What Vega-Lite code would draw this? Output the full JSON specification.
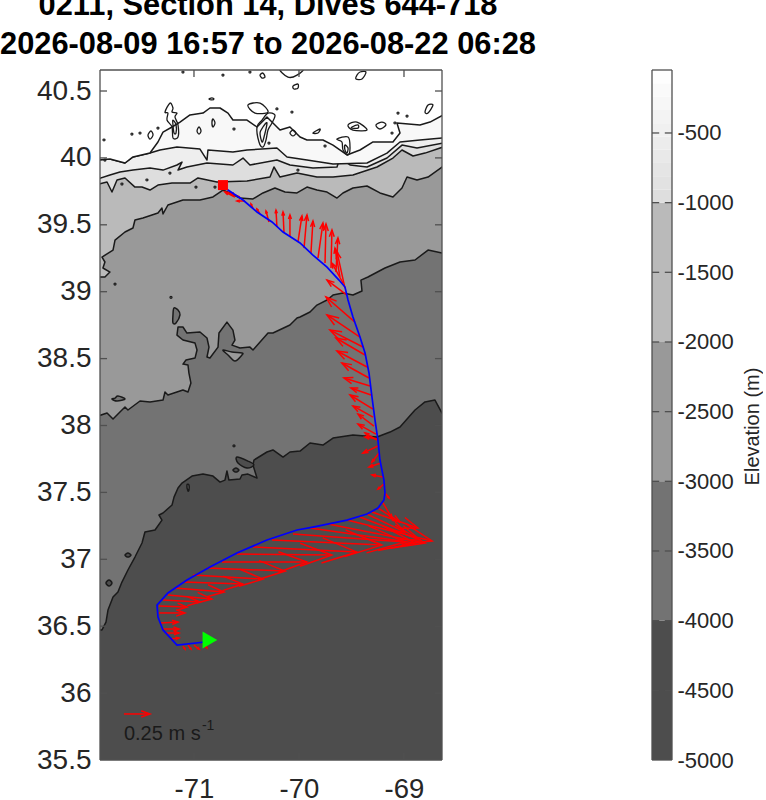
{
  "$schema": "https://vega.github.io/schema/vega-lite/v6.json",
  "background": "white",
  "padding": {"left": 0, "top": -11, "right": 0, "bottom": 5},
  "config": {"view": {"stroke": null}, "font": "Liberation Sans"},
  "datasets": {
    "polys": [
      {"poly":"base","band":"b5","lon":-72,"lat":35},{"poly":"base","band":"b5","lon":-68.5,"lat":35},{"poly":"base","band":"b5","lon":-68.5,"lat":41},{"poly":"base","band":"b5","lon":-72,"lat":41},
      {"poly":"a","band":"b4","lon":-71.943,"lat":36.472},{"poly":"a","band":"b4","lon":-71.876,"lat":36.472},{"poly":"a","band":"b4","lon":-71.838,"lat":36.531},{"poly":"a","band":"b4","lon":-71.819,"lat":36.621},{"poly":"a","band":"b4","lon":-71.771,"lat":36.718},{"poly":"a","band":"b4","lon":-71.724,"lat":36.755},{"poly":"a","band":"b4","lon":-71.686,"lat":36.83},{"poly":"a","band":"b4","lon":-71.629,"lat":36.92},{"poly":"a","band":"b4","lon":-71.562,"lat":37.017},{"poly":"a","band":"b4","lon":-71.495,"lat":37.122},{"poly":"a","band":"b4","lon":-71.467,"lat":37.204},{"poly":"a","band":"b4","lon":-71.371,"lat":37.219},{"poly":"a","band":"b4","lon":-71.305,"lat":37.293},{"poly":"a","band":"b4","lon":-71.333,"lat":37.331},{"poly":"a","band":"b4","lon":-71.295,"lat":37.346},{"poly":"a","band":"b4","lon":-71.209,"lat":37.406},{"poly":"a","band":"b4","lon":-71.19,"lat":37.465},{"poly":"a","band":"b4","lon":-71.152,"lat":37.533},{"poly":"a","band":"b4","lon":-71.114,"lat":37.57},{"poly":"a","band":"b4","lon":-71.019,"lat":37.622},{"poly":"a","band":"b4","lon":-70.914,"lat":37.637},{"poly":"a","band":"b4","lon":-70.819,"lat":37.622},{"poly":"a","band":"b4","lon":-70.752,"lat":37.577},{"poly":"a","band":"b4","lon":-70.705,"lat":37.592},{"poly":"a","band":"b4","lon":-70.686,"lat":37.66},{"poly":"a","band":"b4","lon":-70.667,"lat":37.592},{"poly":"a","band":"b4","lon":-70.562,"lat":37.6},{"poly":"a","band":"b4","lon":-70.543,"lat":37.63},{"poly":"a","band":"b4","lon":-70.486,"lat":37.637},{"poly":"a","band":"b4","lon":-70.4,"lat":37.607},{"poly":"a","band":"b4","lon":-70.438,"lat":37.705},{"poly":"a","band":"b4","lon":-70.429,"lat":37.742},{"poly":"a","band":"b4","lon":-70.305,"lat":37.802},{"poly":"a","band":"b4","lon":-70.248,"lat":37.817},{"poly":"a","band":"b4","lon":-70.152,"lat":37.764},{"poly":"a","band":"b4","lon":-70.086,"lat":37.802},{"poly":"a","band":"b4","lon":-69.99,"lat":37.809},{"poly":"a","band":"b4","lon":-69.895,"lat":37.869},{"poly":"a","band":"b4","lon":-69.772,"lat":37.854},{"poly":"a","band":"b4","lon":-69.676,"lat":37.906},{"poly":"a","band":"b4","lon":-69.486,"lat":37.929},{"poly":"a","band":"b4","lon":-69.257,"lat":37.914},{"poly":"a","band":"b4","lon":-69.133,"lat":37.951},{"poly":"a","band":"b4","lon":-69.038,"lat":37.989},{"poly":"a","band":"b4","lon":-68.895,"lat":38.116},{"poly":"a","band":"b4","lon":-68.8,"lat":38.176},{"poly":"a","band":"b4","lon":-68.705,"lat":38.19},{"poly":"a","band":"b4","lon":-68.638,"lat":38.093},{"poly":"a","band":"b4","lon":-68.591,"lat":38.093},{"poly":"a","band":"b4","lon":-68.5,"lat":41},{"poly":"a","band":"b4","lon":-72,"lat":41},
      {"poly":"b","band":"b3","lon":-71.943,"lat":38.063},{"poly":"b","band":"b3","lon":-71.828,"lat":38.093},{"poly":"b","band":"b3","lon":-71.771,"lat":38.048},{"poly":"b","band":"b3","lon":-71.705,"lat":38.101},{"poly":"b","band":"b3","lon":-71.657,"lat":38.138},{"poly":"b","band":"b3","lon":-71.629,"lat":38.116},{"poly":"b","band":"b3","lon":-71.514,"lat":38.183},{"poly":"b","band":"b3","lon":-71.419,"lat":38.175},{"poly":"b","band":"b3","lon":-71.295,"lat":38.19},{"poly":"b","band":"b3","lon":-71.276,"lat":38.25},{"poly":"b","band":"b3","lon":-71.248,"lat":38.228},{"poly":"b","band":"b3","lon":-71.105,"lat":38.265},{"poly":"b","band":"b3","lon":-71.057,"lat":38.25},{"poly":"b","band":"b3","lon":-71.029,"lat":38.317},{"poly":"b","band":"b3","lon":-71.048,"lat":38.392},{"poly":"b","band":"b3","lon":-71.057,"lat":38.452},{"poly":"b","band":"b3","lon":-71.105,"lat":38.459},{"poly":"b","band":"b3","lon":-71.076,"lat":38.489},{"poly":"b","band":"b3","lon":-70.99,"lat":38.504},{"poly":"b","band":"b3","lon":-70.971,"lat":38.564},{"poly":"b","band":"b3","lon":-70.99,"lat":38.616},{"poly":"b","band":"b3","lon":-71.105,"lat":38.639},{"poly":"b","band":"b3","lon":-71.162,"lat":38.676},{"poly":"b","band":"b3","lon":-71.152,"lat":38.736},{"poly":"b","band":"b3","lon":-71.105,"lat":38.736},{"poly":"b","band":"b3","lon":-71.067,"lat":38.691},{"poly":"b","band":"b3","lon":-70.943,"lat":38.699},{"poly":"b","band":"b3","lon":-70.876,"lat":38.654},{"poly":"b","band":"b3","lon":-70.857,"lat":38.586},{"poly":"b","band":"b3","lon":-70.876,"lat":38.512},{"poly":"b","band":"b3","lon":-70.848,"lat":38.504},{"poly":"b","band":"b3","lon":-70.771,"lat":38.586},{"poly":"b","band":"b3","lon":-70.762,"lat":38.691},{"poly":"b","band":"b3","lon":-70.686,"lat":38.773},{"poly":"b","band":"b3","lon":-70.629,"lat":38.713},{"poly":"b","band":"b3","lon":-70.61,"lat":38.639},{"poly":"b","band":"b3","lon":-70.638,"lat":38.601},{"poly":"b","band":"b3","lon":-70.562,"lat":38.579},{"poly":"b","band":"b3","lon":-70.467,"lat":38.586},{"poly":"b","band":"b3","lon":-70.438,"lat":38.564},{"poly":"b","band":"b3","lon":-70.295,"lat":38.691},{"poly":"b","band":"b3","lon":-70.248,"lat":38.691},{"poly":"b","band":"b3","lon":-70.086,"lat":38.751},{"poly":"b","band":"b3","lon":-70.019,"lat":38.803},{"poly":"b","band":"b3","lon":-69.99,"lat":38.811},{"poly":"b","band":"b3","lon":-69.895,"lat":38.848},{"poly":"b","band":"b3","lon":-69.829,"lat":38.9},{"poly":"b","band":"b3","lon":-69.733,"lat":38.938},{"poly":"b","band":"b3","lon":-69.676,"lat":38.975},{"poly":"b","band":"b3","lon":-69.581,"lat":38.99},{"poly":"b","band":"b3","lon":-69.486,"lat":38.975},{"poly":"b","band":"b3","lon":-69.4,"lat":39.005},{"poly":"b","band":"b3","lon":-69.41,"lat":39.087},{"poly":"b","band":"b3","lon":-69.343,"lat":39.11},{"poly":"b","band":"b3","lon":-69.181,"lat":39.177},{"poly":"b","band":"b3","lon":-69.038,"lat":39.222},{"poly":"b","band":"b3","lon":-68.895,"lat":39.237},{"poly":"b","band":"b3","lon":-68.771,"lat":39.311},{"poly":"b","band":"b3","lon":-68.638,"lat":39.289},{"poly":"b","band":"b3","lon":-68.591,"lat":39.289},{"poly":"b","band":"b3","lon":-68.5,"lat":41},{"poly":"b","band":"b3","lon":-72,"lat":41},
      {"poly":"c","band":"b2","lon":-71.943,"lat":39.11},{"poly":"c","band":"b2","lon":-71.848,"lat":39.11},{"poly":"c","band":"b2","lon":-71.8,"lat":39.147},{"poly":"c","band":"b2","lon":-71.867,"lat":39.177},{"poly":"c","band":"b2","lon":-71.848,"lat":39.222},{"poly":"c","band":"b2","lon":-71.876,"lat":39.259},{"poly":"c","band":"b2","lon":-71.771,"lat":39.311},{"poly":"c","band":"b2","lon":-71.752,"lat":39.386},{"poly":"c","band":"b2","lon":-71.657,"lat":39.446},{"poly":"c","band":"b2","lon":-71.581,"lat":39.476},{"poly":"c","band":"b2","lon":-71.562,"lat":39.536},{"poly":"c","band":"b2","lon":-71.486,"lat":39.551},{"poly":"c","band":"b2","lon":-71.343,"lat":39.588},{"poly":"c","band":"b2","lon":-71.305,"lat":39.625},{"poly":"c","band":"b2","lon":-71.295,"lat":39.581},{"poly":"c","band":"b2","lon":-71.248,"lat":39.648},{"poly":"c","band":"b2","lon":-71.105,"lat":39.685},{"poly":"c","band":"b2","lon":-70.943,"lat":39.685},{"poly":"c","band":"b2","lon":-70.819,"lat":39.708},{"poly":"c","band":"b2","lon":-70.724,"lat":39.76},{"poly":"c","band":"b2","lon":-70.657,"lat":39.738},{"poly":"c","band":"b2","lon":-70.562,"lat":39.7},{"poly":"c","band":"b2","lon":-70.438,"lat":39.693},{"poly":"c","band":"b2","lon":-70.343,"lat":39.738},{"poly":"c","band":"b2","lon":-70.229,"lat":39.775},{"poly":"c","band":"b2","lon":-70.133,"lat":39.745},{"poly":"c","band":"b2","lon":-70.019,"lat":39.738},{"poly":"c","band":"b2","lon":-69.924,"lat":39.782},{"poly":"c","band":"b2","lon":-69.829,"lat":39.76},{"poly":"c","band":"b2","lon":-69.733,"lat":39.745},{"poly":"c","band":"b2","lon":-69.638,"lat":39.7},{"poly":"c","band":"b2","lon":-69.581,"lat":39.738},{"poly":"c","band":"b2","lon":-69.486,"lat":39.775},{"poly":"c","band":"b2","lon":-69.352,"lat":39.79},{"poly":"c","band":"b2","lon":-69.229,"lat":39.738},{"poly":"c","band":"b2","lon":-69.105,"lat":39.708},{"poly":"c","band":"b2","lon":-69.019,"lat":39.775},{"poly":"c","band":"b2","lon":-68.971,"lat":39.857},{"poly":"c","band":"b2","lon":-68.876,"lat":39.835},{"poly":"c","band":"b2","lon":-68.771,"lat":39.857},{"poly":"c","band":"b2","lon":-68.638,"lat":39.932},{"poly":"c","band":"b2","lon":-68.591,"lat":39.947},{"poly":"c","band":"b2","lon":-68.5,"lat":41},{"poly":"c","band":"b2","lon":-72,"lat":41},
      {"poly":"d","band":"b1a","lon":-71.943,"lat":39.797},{"poly":"d","band":"b1a","lon":-71.828,"lat":39.82},{"poly":"d","band":"b1a","lon":-71.781,"lat":39.745},{"poly":"d","band":"b1a","lon":-71.733,"lat":39.835},{"poly":"d","band":"b1a","lon":-71.657,"lat":39.85},{"poly":"d","band":"b1a","lon":-71.562,"lat":39.782},{"poly":"d","band":"b1a","lon":-71.495,"lat":39.782},{"poly":"d","band":"b1a","lon":-71.419,"lat":39.76},{"poly":"d","band":"b1a","lon":-71.343,"lat":39.797},{"poly":"d","band":"b1a","lon":-71.209,"lat":39.812},{"poly":"d","band":"b1a","lon":-71.038,"lat":39.812},{"poly":"d","band":"b1a","lon":-70.962,"lat":39.85},{"poly":"d","band":"b1a","lon":-70.781,"lat":39.82},{"poly":"d","band":"b1a","lon":-70.495,"lat":39.827},{"poly":"d","band":"b1a","lon":-70.276,"lat":39.857},{"poly":"d","band":"b1a","lon":-70.238,"lat":39.932},{"poly":"d","band":"b1a","lon":-70.181,"lat":39.857},{"poly":"d","band":"b1a","lon":-70.019,"lat":39.887},{"poly":"d","band":"b1a","lon":-69.829,"lat":39.857},{"poly":"d","band":"b1a","lon":-69.676,"lat":39.857},{"poly":"d","band":"b1a","lon":-69.486,"lat":39.872},{"poly":"d","band":"b1a","lon":-69.257,"lat":39.932},{"poly":"d","band":"b1a","lon":-69.105,"lat":39.999},{"poly":"d","band":"b1a","lon":-69.019,"lat":40.059},{"poly":"d","band":"b1a","lon":-68.914,"lat":40.014},{"poly":"d","band":"b1a","lon":-68.8,"lat":40.036},{"poly":"d","band":"b1a","lon":-68.629,"lat":40.081},{"poly":"d","band":"b1a","lon":-68.591,"lat":40.081},{"poly":"d","band":"b1a","lon":-68.5,"lat":41},{"poly":"d","band":"b1a","lon":-72,"lat":41},
      {"poly":"e","band":"b1b","lon":-71.943,"lat":39.835},{"poly":"e","band":"b1b","lon":-71.8,"lat":39.872},{"poly":"e","band":"b1b","lon":-71.705,"lat":39.894},{"poly":"e","band":"b1b","lon":-71.581,"lat":39.909},{"poly":"e","band":"b1b","lon":-71.419,"lat":39.924},{"poly":"e","band":"b1b","lon":-71.295,"lat":39.909},{"poly":"e","band":"b1b","lon":-71.162,"lat":39.947},{"poly":"e","band":"b1b","lon":-71.114,"lat":39.969},{"poly":"e","band":"b1b","lon":-71.152,"lat":39.909},{"poly":"e","band":"b1b","lon":-71.067,"lat":39.932},{"poly":"e","band":"b1b","lon":-70.876,"lat":39.962},{"poly":"e","band":"b1b","lon":-70.629,"lat":39.947},{"poly":"e","band":"b1b","lon":-70.533,"lat":39.999},{"poly":"e","band":"b1b","lon":-70.467,"lat":39.947},{"poly":"e","band":"b1b","lon":-70.21,"lat":39.984},{"poly":"e","band":"b1b","lon":-70.086,"lat":39.947},{"poly":"e","band":"b1b","lon":-69.867,"lat":39.924},{"poly":"e","band":"b1b","lon":-69.638,"lat":39.932},{"poly":"e","band":"b1b","lon":-69.61,"lat":39.999},{"poly":"e","band":"b1b","lon":-69.514,"lat":39.947},{"poly":"e","band":"b1b","lon":-69.352,"lat":39.932},{"poly":"e","band":"b1b","lon":-69.162,"lat":39.999},{"poly":"e","band":"b1b","lon":-69.019,"lat":40.096},{"poly":"e","band":"b1b","lon":-68.876,"lat":40.074},{"poly":"e","band":"b1b","lon":-68.629,"lat":40.111},{"poly":"e","band":"b1b","lon":-68.591,"lat":40.111},{"poly":"e","band":"b1b","lon":-68.5,"lat":41},{"poly":"e","band":"b1b","lon":-72,"lat":41},
      {"poly":"f","band":"b1c","lon":-71.943,"lat":39.984},{"poly":"f","band":"b1c","lon":-71.8,"lat":39.992},{"poly":"f","band":"b1c","lon":-71.657,"lat":39.962},{"poly":"f","band":"b1c","lon":-71.581,"lat":40.007},{"poly":"f","band":"b1c","lon":-71.419,"lat":40.037},{"poly":"f","band":"b1c","lon":-71.324,"lat":40.059},{"poly":"f","band":"b1c","lon":-71.162,"lat":40.081},{"poly":"f","band":"b1c","lon":-70.943,"lat":40.066},{"poly":"f","band":"b1c","lon":-70.876,"lat":39.984},{"poly":"f","band":"b1c","lon":-70.867,"lat":40.059},{"poly":"f","band":"b1c","lon":-70.629,"lat":40.044},{"poly":"f","band":"b1c","lon":-70.495,"lat":40.059},{"poly":"f","band":"b1c","lon":-70.21,"lat":40.074},{"poly":"f","band":"b1c","lon":-70.114,"lat":40.007},{"poly":"f","band":"b1c","lon":-69.924,"lat":39.984},{"poly":"f","band":"b1c","lon":-69.676,"lat":39.954},{"poly":"f","band":"b1c","lon":-69.352,"lat":39.962},{"poly":"f","band":"b1c","lon":-69.162,"lat":40.036},{"poly":"f","band":"b1c","lon":-69.038,"lat":40.119},{"poly":"f","band":"b1c","lon":-68.848,"lat":40.134},{"poly":"f","band":"b1c","lon":-68.629,"lat":40.149},{"poly":"f","band":"b1c","lon":-68.591,"lat":40.149},{"poly":"f","band":"b1c","lon":-68.5,"lat":41},{"poly":"f","band":"b1c","lon":-72,"lat":41},
      {"poly":"g","band":"b1d","lon":-71.943,"lat":39.984},{"poly":"g","band":"b1d","lon":-71.8,"lat":39.992},{"poly":"g","band":"b1d","lon":-71.657,"lat":39.962},{"poly":"g","band":"b1d","lon":-71.581,"lat":40.007},{"poly":"g","band":"b1d","lon":-71.419,"lat":40.037},{"poly":"g","band":"b1d","lon":-71.343,"lat":40.119},{"poly":"g","band":"b1d","lon":-71.295,"lat":40.193},{"poly":"g","band":"b1d","lon":-71.209,"lat":40.231},{"poly":"g","band":"b1d","lon":-71.133,"lat":40.268},{"poly":"g","band":"b1d","lon":-71.038,"lat":40.321},{"poly":"g","band":"b1d","lon":-70.914,"lat":40.335},{"poly":"g","band":"b1d","lon":-70.848,"lat":40.373},{"poly":"g","band":"b1d","lon":-70.752,"lat":40.373},{"poly":"g","band":"b1d","lon":-70.676,"lat":40.335},{"poly":"g","band":"b1d","lon":-70.629,"lat":40.283},{"poly":"g","band":"b1d","lon":-70.495,"lat":40.283},{"poly":"g","band":"b1d","lon":-70.4,"lat":40.231},{"poly":"g","band":"b1d","lon":-70.305,"lat":40.306},{"poly":"g","band":"b1d","lon":-70.181,"lat":40.208},{"poly":"g","band":"b1d","lon":-70.086,"lat":40.231},{"poly":"g","band":"b1d","lon":-69.99,"lat":40.156},{"poly":"g","band":"b1d","lon":-69.924,"lat":40.134},{"poly":"g","band":"b1d","lon":-69.772,"lat":40.134},{"poly":"g","band":"b1d","lon":-69.676,"lat":40.096},{"poly":"g","band":"b1d","lon":-69.543,"lat":40.022},{"poly":"g","band":"b1d","lon":-69.419,"lat":40.059},{"poly":"g","band":"b1d","lon":-69.295,"lat":40.119},{"poly":"g","band":"b1d","lon":-69.105,"lat":40.119},{"poly":"g","band":"b1d","lon":-69.038,"lat":40.186},{"poly":"g","band":"b1d","lon":-69.067,"lat":40.261},{"poly":"g","band":"b1d","lon":-68.848,"lat":40.246},{"poly":"g","band":"b1d","lon":-68.752,"lat":40.268},{"poly":"g","band":"b1d","lon":-68.629,"lat":40.32},{"poly":"g","band":"b1d","lon":-68.591,"lat":40.32},{"poly":"g","band":"b1d","lon":-68.5,"lat":41},{"poly":"g","band":"b1d","lon":-72,"lat":41},
      {"poly":"i1","band":"b5","lon":-71.657,"lat":37.032},{"poly":"i1","band":"b5","lon":-71.629,"lat":37.047},{"poly":"i1","band":"b5","lon":-71.6,"lat":37.032},{"poly":"i1","band":"b5","lon":-71.629,"lat":37.017},
      {"poly":"i2","band":"b5","lon":-71.838,"lat":36.823},{"poly":"i2","band":"b5","lon":-71.809,"lat":36.845},{"poly":"i2","band":"b5","lon":-71.781,"lat":36.823},{"poly":"i2","band":"b5","lon":-71.809,"lat":36.8},
      {"poly":"i3","band":"b5","lon":-70.629,"lat":37.667},{"poly":"i3","band":"b5","lon":-70.6,"lat":37.682},{"poly":"i3","band":"b5","lon":-70.572,"lat":37.667},{"poly":"i3","band":"b5","lon":-70.6,"lat":37.652},
      {"poly":"i4","band":"b5","lon":-70.591,"lat":37.764},{"poly":"i4","band":"b5","lon":-70.486,"lat":37.734},{"poly":"i4","band":"b5","lon":-70.429,"lat":37.705},{"poly":"i4","band":"b5","lon":-70.495,"lat":37.682},{"poly":"i4","band":"b5","lon":-70.581,"lat":37.72},
      {"poly":"i5","band":"b4","lon":-71.067,"lat":37.555},{"poly":"i5","band":"b4","lon":-71.048,"lat":37.555},{"poly":"i5","band":"b4","lon":-71.048,"lat":37.518},{"poly":"i5","band":"b4","lon":-71.057,"lat":37.511},
      {"poly":"i6","band":"b4","lon":-71.191,"lat":38.878},{"poly":"i6","band":"b4","lon":-71.152,"lat":38.863},{"poly":"i6","band":"b4","lon":-71.133,"lat":38.826},{"poly":"i6","band":"b4","lon":-71.171,"lat":38.766},{"poly":"i6","band":"b4","lon":-71.2,"lat":38.766},{"poly":"i6","band":"b4","lon":-71.2,"lat":38.826},
      {"poly":"i7","band":"b3","lon":-70.724,"lat":38.564},{"poly":"i7","band":"b3","lon":-70.638,"lat":38.549},{"poly":"i7","band":"b3","lon":-70.543,"lat":38.542},{"poly":"i7","band":"b3","lon":-70.543,"lat":38.527},{"poly":"i7","band":"b3","lon":-70.61,"lat":38.482},{"poly":"i7","band":"b3","lon":-70.676,"lat":38.527},
      {"poly":"i8","band":"b4","lon":-71.752,"lat":38.205},{"poly":"i8","band":"b4","lon":-71.724,"lat":38.22},{"poly":"i8","band":"b4","lon":-71.657,"lat":38.198},{"poly":"i8","band":"b4","lon":-71.733,"lat":38.183},{"poly":"i8","band":"b4","lon":-71.781,"lat":38.198}
    ],
    "loops": [
      {"loop":"s1","lon":-71.229,"lat":40.41},{"loop":"s1","lon":-71.2,"lat":40.373},{"loop":"s1","lon":-71.209,"lat":40.343},{"loop":"s1","lon":-71.162,"lat":40.335},{"loop":"s1","lon":-71.181,"lat":40.306},{"loop":"s1","lon":-71.152,"lat":40.246},{"loop":"s1","lon":-71.152,"lat":40.156},{"loop":"s1","lon":-71.2,"lat":40.149},{"loop":"s1","lon":-71.209,"lat":40.231},{"loop":"s1","lon":-71.257,"lat":40.283},{"loop":"s1","lon":-71.248,"lat":40.335},{"loop":"s1","lon":-71.276,"lat":40.343},
      {"loop":"s1i","lon":-71.2,"lat":40.283},{"loop":"s1i","lon":-71.171,"lat":40.246},{"loop":"s1i","lon":-71.171,"lat":40.186},{"loop":"s1i","lon":-71.19,"lat":40.186},{"loop":"s1i","lon":-71.2,"lat":40.246},
      {"loop":"s2","lon":-70.295,"lat":40.335},{"loop":"s2","lon":-70.229,"lat":40.32},{"loop":"s2","lon":-70.257,"lat":40.261},{"loop":"s2","lon":-70.295,"lat":40.208},{"loop":"s2","lon":-70.314,"lat":40.134},{"loop":"s2","lon":-70.343,"lat":40.081},{"loop":"s2","lon":-70.381,"lat":40.119},{"loop":"s2","lon":-70.4,"lat":40.231},{"loop":"s2","lon":-70.352,"lat":40.283},
      {"loop":"s2i","lon":-70.343,"lat":40.231},{"loop":"s2i","lon":-70.305,"lat":40.261},{"loop":"s2i","lon":-70.333,"lat":40.156},{"loop":"s2i","lon":-70.352,"lat":40.119},{"loop":"s2i","lon":-70.371,"lat":40.186},
      {"loop":"s3","lon":-69.638,"lat":40.141},{"loop":"s3","lon":-69.533,"lat":40.156},{"loop":"s3","lon":-69.514,"lat":40.074},{"loop":"s3","lon":-69.533,"lat":40.022},{"loop":"s3","lon":-69.581,"lat":40.059},{"loop":"s3","lon":-69.591,"lat":40.119},
      {"loop":"s3i","lon":-69.562,"lat":40.096},{"loop":"s3i","lon":-69.533,"lat":40.074},{"loop":"s3i","lon":-69.543,"lat":40.036},{"loop":"s3i","lon":-69.562,"lat":40.059},
      {"loop":"s4","lon":-69.533,"lat":40.246},{"loop":"s4","lon":-69.448,"lat":40.268},{"loop":"s4","lon":-69.352,"lat":40.208},{"loop":"s4","lon":-69.486,"lat":40.208},
      {"loop":"s4i","lon":-69.495,"lat":40.231},{"loop":"s4i","lon":-69.438,"lat":40.246},{"loop":"s4i","lon":-69.438,"lat":40.223},{"loop":"s4i","lon":-69.495,"lat":40.223},
      {"loop":"s5","lon":-70.486,"lat":40.395},{"loop":"s5","lon":-70.371,"lat":40.41},{"loop":"s5","lon":-70.295,"lat":40.343},{"loop":"s5","lon":-70.419,"lat":40.335},
      {"loop":"s6","lon":-68.771,"lat":40.395},{"loop":"s6","lon":-68.724,"lat":40.395},{"loop":"s6","lon":-68.771,"lat":40.335},{"loop":"s6","lon":-68.8,"lat":40.343},
      {"loop":"s7","lon":-69.448,"lat":40.619},{"loop":"s7","lon":-69.419,"lat":40.642},{"loop":"s7","lon":-69.362,"lat":40.642},{"loop":"s7","lon":-69.4,"lat":40.59},{"loop":"s7","lon":-69.457,"lat":40.59},
      {"loop":"s8","lon":-70.371,"lat":40.619},{"loop":"s8","lon":-70.343,"lat":40.634},{"loop":"s8","lon":-70.324,"lat":40.604},{"loop":"s8","lon":-70.352,"lat":40.597},
      {"loop":"s9","lon":-70.057,"lat":40.537},{"loop":"s9","lon":-70.01,"lat":40.552},{"loop":"s9","lon":-70.01,"lat":40.522},{"loop":"s9","lon":-70.048,"lat":40.515},
      {"loop":"s10","lon":-70.181,"lat":40.672},{"loop":"s10","lon":-70.105,"lat":40.604},{"loop":"s10","lon":-70.019,"lat":40.619},{"loop":"s10","lon":-69.962,"lat":40.672},
      {"loop":"s11","lon":-69.267,"lat":40.246},{"loop":"s11","lon":-69.21,"lat":40.268},{"loop":"s11","lon":-69.172,"lat":40.246},{"loop":"s11","lon":-69.229,"lat":40.216},
      {"loop":"s12","lon":-70.857,"lat":40.44},{"loop":"s12","lon":-70.829,"lat":40.448},{"loop":"s12","lon":-70.81,"lat":40.44},{"loop":"s12","lon":-70.829,"lat":40.433},
      {"loop":"s13","lon":-69.867,"lat":40.186},{"loop":"s13","lon":-69.8,"lat":40.216},{"loop":"s13","lon":-69.819,"lat":40.186},
      {"loop":"s14","lon":-70.086,"lat":40.186},{"loop":"s14","lon":-70.057,"lat":40.208},{"loop":"s14","lon":-70.029,"lat":40.186},{"loop":"s14","lon":-70.057,"lat":40.164},
      {"loop":"s15","lon":-71.438,"lat":40.171},{"loop":"s15","lon":-71.41,"lat":40.201},{"loop":"s15","lon":-71.39,"lat":40.171},{"loop":"s15","lon":-71.419,"lat":40.141},
      {"loop":"s16","lon":-70.971,"lat":40.201},{"loop":"s16","lon":-70.952,"lat":40.231},{"loop":"s16","lon":-70.933,"lat":40.201},{"loop":"s16","lon":-70.952,"lat":40.178},
      {"loop":"s17","lon":-70.829,"lat":40.261},{"loop":"s17","lon":-70.819,"lat":40.291},{"loop":"s17","lon":-70.8,"lat":40.261},{"loop":"s17","lon":-70.819,"lat":40.231}
    ],
    "dots": [
      {"lon":-71.752,"lat":39.057},{"lon":-71.219,"lat":38.957},{"lon":-70.619,"lat":37.847},{"lon":-70.724,"lat":40.619},{"lon":-70.467,"lat":40.642},{"lon":-71.105,"lat":40.642},{"lon":-70.21,"lat":40.366},{"lon":-70.067,"lat":40.343},{"lon":-71.514,"lat":40.186},{"lon":-71.591,"lat":40.178},{"lon":-71.343,"lat":40.223},{"lon":-70.619,"lat":40.216},{"lon":-71.857,"lat":40.134},{"lon":-69.057,"lat":40.335},{"lon":-68.971,"lat":40.313},{"lon":-69.086,"lat":40.261},{"lon":-69.114,"lat":40.186},{"lon":-69.752,"lat":40.089},{"lon":-70.286,"lat":40.111},{"lon":-70.01,"lat":39.909},{"lon":-70.981,"lat":39.782},{"lon":-70.8,"lat":39.782},{"lon":-71.686,"lat":39.805},{"lon":-71.448,"lat":39.835},{"lon":-71.229,"lat":39.887},{"lon":-71.848,"lat":39.984}
    ],
    "track": [
      {"lon":-70.724,"lat":39.797},{"lon":-70.676,"lat":39.76},{"lon":-70.533,"lat":39.685},{"lon":-70.4,"lat":39.596},{"lon":-70.257,"lat":39.521},{"lon":-70.152,"lat":39.446},{"lon":-69.99,"lat":39.364},{"lon":-69.867,"lat":39.274},{"lon":-69.733,"lat":39.184},{"lon":-69.619,"lat":39.087},{"lon":-69.562,"lat":39.035},{"lon":-69.533,"lat":38.938},{"lon":-69.486,"lat":38.811},{"lon":-69.419,"lat":38.661},{"lon":-69.371,"lat":38.542},{"lon":-69.333,"lat":38.392},{"lon":-69.305,"lat":38.213},{"lon":-69.276,"lat":38.041},{"lon":-69.248,"lat":37.891},{"lon":-69.229,"lat":37.742},{"lon":-69.191,"lat":37.592},{"lon":-69.181,"lat":37.495},{"lon":-69.191,"lat":37.443},{"lon":-69.248,"lat":37.383},{"lon":-69.352,"lat":37.338},{"lon":-69.543,"lat":37.293},{"lon":-69.867,"lat":37.241},{"lon":-70.019,"lat":37.219},{"lon":-70.305,"lat":37.144},{"lon":-70.591,"lat":37.047},{"lon":-70.848,"lat":36.942},{"lon":-71.067,"lat":36.845},{"lon":-71.248,"lat":36.748},{"lon":-71.352,"lat":36.658},{"lon":-71.343,"lat":36.568},{"lon":-71.295,"lat":36.472},{"lon":-71.162,"lat":36.359},{"lon":-70.895,"lat":36.382}
    ],
    "arrows": [
      {"lon":-70.61,"lat":39.708,"lon2":-70.705,"lat2":39.745},{"lon":-70.562,"lat":39.708,"lon2":-70.657,"lat2":39.738},{"lon":-70.514,"lat":39.678,"lon2":-70.591,"lat2":39.678},{"lon":-70.438,"lat":39.625,"lon2":-70.457,"lat2":39.655},{"lon":-70.371,"lat":39.581,"lon2":-70.4,"lat2":39.618},{"lon":-70.286,"lat":39.521,"lon2":-70.314,"lat2":39.603},{"lon":-70.21,"lat":39.483,"lon2":-70.219,"lat2":39.61},{"lon":-70.143,"lat":39.446,"lon2":-70.152,"lat2":39.596},{"lon":-70.086,"lat":39.409,"lon2":-70.086,"lat2":39.573},{"lon":-70.01,"lat":39.371,"lon2":-69.972,"lat2":39.566},{"lon":-69.952,"lat":39.326,"lon2":-69.924,"lat2":39.573},{"lon":-69.886,"lat":39.289,"lon2":-69.867,"lat2":39.528},{"lon":-69.819,"lat":39.252,"lon2":-69.772,"lat2":39.513},{"lon":-69.752,"lat":39.214,"lon2":-69.743,"lat2":39.506},{"lon":-69.695,"lat":39.177,"lon2":-69.686,"lat2":39.461},{"lon":-69.648,"lat":39.147,"lon2":-69.629,"lat2":39.401},{"lon":-69.61,"lat":39.11,"lon2":-69.657,"lat2":39.326},{"lon":-69.581,"lat":39.065,"lon2":-69.686,"lat2":39.214},{"lon":-69.562,"lat":39.027,"lon2":-69.638,"lat2":39.297},{"lon":-69.543,"lat":38.975,"lon2":-69.733,"lat2":39.087},
      {"lon":-69.467,"lat":38.773,"lon2":-69.743,"lat2":38.96},{"lon":-69.419,"lat":38.661,"lon2":-69.733,"lat2":38.826},{"lon":-69.391,"lat":38.587,"lon2":-69.705,"lat2":38.713},{"lon":-69.371,"lat":38.527,"lon2":-69.648,"lat2":38.654},{"lon":-69.352,"lat":38.437,"lon2":-69.638,"lat2":38.557},{"lon":-69.333,"lat":38.355,"lon2":-69.591,"lat2":38.467},{"lon":-69.324,"lat":38.295,"lon2":-69.572,"lat2":38.355},{"lon":-69.314,"lat":38.228,"lon2":-69.505,"lat2":38.28},{"lon":-69.295,"lat":38.123,"lon2":-69.514,"lat2":38.228},{"lon":-69.295,"lat":38.063,"lon2":-69.486,"lat2":38.146},{"lon":-69.286,"lat":37.996,"lon2":-69.438,"lat2":38.086},{"lon":-69.267,"lat":37.936,"lon2":-69.438,"lat2":38.011},{"lon":-69.257,"lat":37.891,"lon2":-69.371,"lat2":37.944},{"lon":-69.248,"lat":37.899,"lon2":-69.371,"lat2":37.914},{"lon":-69.248,"lat":37.847,"lon2":-69.391,"lat2":37.794},{"lon":-69.238,"lat":37.794,"lon2":-69.305,"lat2":37.727},{"lon":-69.219,"lat":37.72,"lon2":-69.333,"lat2":37.69},{"lon":-69.2,"lat":37.615,"lon2":-69.305,"lat2":37.63},{"lon":-69.191,"lat":37.563,"lon2":-69.248,"lat2":37.525},
      {"lon":-69.181,"lat":37.495,"lon2":-69.143,"lat2":37.458},{"lon":-69.2,"lat":37.421,"lon2":-69.114,"lat2":37.308},{"lon":-69.248,"lat":37.383,"lon2":-69.038,"lat2":37.279},{"lon":-69.305,"lat":37.353,"lon2":-68.867,"lat2":37.234},{"lon":-69.352,"lat":37.338,"lon2":-68.99,"lat2":37.204},{"lon":-69.419,"lat":37.316,"lon2":-68.848,"lat2":37.144},{"lon":-69.543,"lat":37.293,"lon2":-68.733,"lat2":37.137},{"lon":-69.724,"lat":37.264,"lon2":-68.8,"lat2":37.122},{"lon":-69.895,"lat":37.234,"lon2":-68.895,"lat2":37.122},{"lon":-70.057,"lat":37.189,"lon2":-68.99,"lat2":37.129},{"lon":-70.257,"lat":37.144,"lon2":-69.21,"lat2":37.107},{"lon":-70.438,"lat":37.092,"lon2":-69.448,"lat2":37.054},{"lon":-70.591,"lat":37.039,"lon2":-69.686,"lat2":37.032},{"lon":-70.733,"lat":36.98,"lon2":-69.924,"lat2":36.98},{"lon":-70.876,"lat":36.935,"lon2":-70.133,"lat2":36.912},{"lon":-71.01,"lat":36.882,"lon2":-70.343,"lat2":36.852},{"lon":-71.105,"lat":36.83,"lon2":-70.533,"lat2":36.815},{"lon":-71.181,"lat":36.785,"lon2":-70.714,"lat2":36.755},{"lon":-71.248,"lat":36.733,"lon2":-70.829,"lat2":36.703},{"lon":-71.295,"lat":36.696,"lon2":-70.943,"lat2":36.681},{"lon":-71.333,"lat":36.651,"lon2":-71.067,"lat2":36.643},{"lon":-71.333,"lat":36.599,"lon2":-71.086,"lat2":36.599},{"lon":-71.314,"lat":36.524,"lon2":-71.152,"lat2":36.531},{"lon":-71.295,"lat":36.479,"lon2":-71.143,"lat2":36.479},{"lon":-71.276,"lat":36.449,"lon2":-71.143,"lat2":36.449},{"lon":-71.229,"lat":36.404,"lon2":-71.143,"lat2":36.412},{"lon":-71.105,"lat":36.352,"lon2":-71.086,"lat2":36.329},{"lon":-71.057,"lat":36.359,"lon2":-71.029,"lat2":36.329},{"lon":-71,"lat":36.359,"lon2":-70.952,"lat2":36.329},{"lon":-70.914,"lat":36.374,"lon2":-70.876,"lat2":36.337},
      {"lon":-71.667,"lat":35.844,"lon2":-71.419,"lat2":35.844}
    ],
    "frame": [
      {"lon":-71.895,"lat":35.5,"lon2":-68.638,"lat2":35.5},{"lon":-71.895,"lat":40.657,"lon2":-68.638,"lat2":40.657},{"lon":-71.895,"lat":35.5,"lon2":-71.895,"lat2":40.657},{"lon":-68.638,"lat":35.5,"lon2":-68.638,"lat2":40.657},
      {"lon":-71,"lat":35.5,"lon2":-71,"lat2":35.552},{"lon":-70,"lat":35.5,"lon2":-70,"lat2":35.552},{"lon":-69,"lat":35.5,"lon2":-69,"lat2":35.552},
      {"lon":-71,"lat":40.657,"lon2":-71,"lat2":40.605},{"lon":-70,"lat":40.657,"lon2":-70,"lat2":40.605},{"lon":-69,"lat":40.657,"lon2":-69,"lat2":40.605},
      {"lon":-71.895,"lat":36,"lon2":-71.828,"lat2":36},{"lon":-71.895,"lat":36.5,"lon2":-71.828,"lat2":36.5},{"lon":-71.895,"lat":37,"lon2":-71.828,"lat2":37},{"lon":-71.895,"lat":37.5,"lon2":-71.828,"lat2":37.5},{"lon":-71.895,"lat":38,"lon2":-71.828,"lat2":38},{"lon":-71.895,"lat":38.5,"lon2":-71.828,"lat2":38.5},{"lon":-71.895,"lat":39,"lon2":-71.828,"lat2":39},{"lon":-71.895,"lat":39.5,"lon2":-71.828,"lat2":39.5},{"lon":-71.895,"lat":40,"lon2":-71.828,"lat2":40},{"lon":-71.895,"lat":40.5,"lon2":-71.828,"lat2":40.5},
      {"lon":-68.638,"lat":36,"lon2":-68.705,"lat2":36},{"lon":-68.638,"lat":36.5,"lon2":-68.705,"lat2":36.5},{"lon":-68.638,"lat":37,"lon2":-68.705,"lat2":37},{"lon":-68.638,"lat":37.5,"lon2":-68.705,"lat2":37.5},{"lon":-68.638,"lat":38,"lon2":-68.705,"lat2":38},{"lon":-68.638,"lat":38.5,"lon2":-68.705,"lat2":38.5},{"lon":-68.638,"lat":39,"lon2":-68.705,"lat2":39},{"lon":-68.638,"lat":39.5,"lon2":-68.705,"lat2":39.5},{"lon":-68.638,"lat":40,"lon2":-68.705,"lat2":40},{"lon":-68.638,"lat":40.5,"lon2":-68.705,"lat2":40.5}
    ],
    "bar": [
      {"low":-5000,"high":-4000,"shade":"s5"},{"low":-4000,"high":-3000,"shade":"s4"},{"low":-3000,"high":-2000,"shade":"s3"},{"low":-2000,"high":-1000,"shade":"s2"},
      {"low":-1000,"high":-905,"shade":"g0"},{"low":-905,"high":-810,"shade":"g1"},{"low":-810,"high":-715,"shade":"g2"},{"low":-715,"high":-620,"shade":"g3"},{"low":-620,"high":-525,"shade":"g4"},{"low":-525,"high":-430,"shade":"g5"},{"low":-430,"high":-335,"shade":"g6"},{"low":-335,"high":-240,"shade":"g7"},{"low":-240,"high":-145,"shade":"g8"},{"low":-145,"high":-48,"shade":"g9"}
    ],
    "barframe": [
      {"a":0,"b":1,"e":-5000,"e2":-5000},{"a":0,"b":1,"e":-48,"e2":-48},{"a":0,"b":0,"e":-5000,"e2":-48},{"a":1,"b":1,"e":-5000,"e2":-48},
      {"a":0,"b":0.36,"e":-4500,"e2":-4500},{"a":0.64,"b":1,"e":-4500,"e2":-4500},{"a":0,"b":0.36,"e":-4000,"e2":-4000},{"a":0.64,"b":1,"e":-4000,"e2":-4000},{"a":0,"b":0.36,"e":-3500,"e2":-3500},{"a":0.64,"b":1,"e":-3500,"e2":-3500},{"a":0,"b":0.36,"e":-3000,"e2":-3000},{"a":0.64,"b":1,"e":-3000,"e2":-3000},{"a":0,"b":0.36,"e":-2500,"e2":-2500},{"a":0.64,"b":1,"e":-2500,"e2":-2500},{"a":0,"b":0.36,"e":-2000,"e2":-2000},{"a":0.64,"b":1,"e":-2000,"e2":-2000},{"a":0,"b":0.36,"e":-1500,"e2":-1500},{"a":0.64,"b":1,"e":-1500,"e2":-1500},{"a":0,"b":0.36,"e":-1000,"e2":-1000},{"a":0.64,"b":1,"e":-1000,"e2":-1000},{"a":0,"b":0.36,"e":-500,"e2":-500},{"a":0.64,"b":1,"e":-500,"e2":-500}
    ]
  },
  "hconcat": [
    {
      "width": 342,
      "height": 690,
      "title": {
        "text": ["0211, Section 14, Dives 644-718", "2026-08-09 16:57 to 2026-08-22 06:28"],
        "font": "Liberation Sans",
        "fontSize": 30.8,
        "fontWeight": "bold",
        "color": "#000000",
        "lineHeight": 39,
        "anchor": "middle",
        "dx": -3,
        "offset": 8
      },
      "encoding": {
        "x": {
          "field": "lon",
          "type": "quantitative",
          "scale": {"domain": [-71.895, -68.638], "nice": false, "zero": false},
          "axis": {"title": null, "values": [-71, -70, -69], "labelExpr": "'' + datum.value", "ticks": false, "domain": false, "grid": false, "labelFont": "Liberation Sans", "labelFontSize": 27.5, "labelColor": "#262626", "labelPadding": 15, "labelFlush": false}
        },
        "y": {
          "field": "lat",
          "type": "quantitative",
          "scale": {"domain": [35.5, 40.657], "nice": false, "zero": false},
          "axis": {"title": null, "values": [35.5, 36, 36.5, 37, 37.5, 38, 38.5, 39, 39.5, 40, 40.5], "labelExpr": "'' + datum.value", "ticks": false, "domain": false, "grid": false, "labelFont": "Liberation Sans", "labelFontSize": 28, "labelColor": "#262626", "labelPadding": 9, "labelFlush": false}
        }
      },
      "layer": [
        {
          "data": {"name": "polys"},
          "transform": [{"filter": "!test(/^i/, datum.poly)"}],
          "mark": {"type": "line", "clip": true, "stroke": "#1a1a1a", "strokeWidth": 1.5, "interpolate": "linear-closed", "strokeJoin": "round"},
          "encoding": {
            "order": {"value": null},
            "detail": {"field": "poly"},
            "fill": {
              "field": "band",
              "type": "nominal",
              "legend": null,
              "scale": {
                "domain": ["b5", "b4", "b3", "b2", "b1a", "b1b", "b1c", "b1d"],
                "range": ["#4d4d4d", "#737373", "#999999", "#bababa", "#dedede", "#eeeeee", "#f8f8f8", "#ffffff"]
              }
            }
          }
        },
        {
          "data": {"name": "polys"},
          "transform": [{"filter": "test(/^i/, datum.poly)"}],
          "mark": {"type": "line", "clip": true, "stroke": "#1a1a1a", "strokeWidth": 1.5, "interpolate": "cardinal-closed"},
          "encoding": {
            "order": {"value": null},
            "detail": {"field": "poly"},
            "fill": {"field": "band", "type": "nominal", "legend": null}
          }
        },
        {
          "data": {"name": "loops"},
          "mark": {"type": "line", "clip": true, "stroke": "#1a1a1a", "strokeWidth": 1.3, "interpolate": "cardinal-closed"},
          "encoding": {"order": {"value": null}, "detail": {"field": "loop"}}
        },
        {
          "data": {"name": "dots"},
          "mark": {"type": "point", "filled": false, "stroke": "#1a1a1a", "strokeWidth": 1.2, "size": 4, "opacity": 1},
          "encoding": {}
        },
        {
          "data": {"name": "arrows"},
          "mark": {"type": "rule", "stroke": "#ff0000", "strokeWidth": 1.5},
          "encoding": {"x2": {"field": "lon2"}, "y2": {"field": "lat2"}}
        },
        {
          "data": {"name": "arrows"},
          "transform": [
            {"calculate": "(datum.lon2 - datum.lon) * 105", "as": "dx"},
            {"calculate": "(datum.lat2 - datum.lat) * 133.8", "as": "dy"},
            {"calculate": "atan2(datum.dx, datum.dy) * 180 / PI", "as": "heading"},
            {"calculate": "0.45 * datum.dx * datum.dx + 0.12 * datum.dy * datum.dy + 8", "as": "headsize"}
          ],
          "mark": {"type": "point", "shape": "M -0.36 1 L 0 0 L 0.36 1", "filled": false, "stroke": "#ff0000", "strokeWidth": 1.5, "opacity": 1},
          "encoding": {
            "x": {"field": "lon2", "type": "quantitative"},
            "y": {"field": "lat2", "type": "quantitative"},
            "angle": {"field": "heading", "type": "quantitative", "scale": null},
            "size": {"field": "headsize", "type": "quantitative", "scale": null}
          }
        },
        {
          "data": {"name": "track"},
          "mark": {"type": "line", "stroke": "#0000ff", "strokeWidth": 1.7},
          "encoding": {"order": {"value": null}}
        },
        {
          "data": {"values": [{"lon": -70.724, "lat": 39.797}]},
          "mark": {"type": "point", "shape": "square", "filled": true, "color": "#ff0000", "size": 100, "opacity": 1},
          "encoding": {}
        },
        {
          "data": {"values": [{"lon": -70.848, "lat": 36.397}]},
          "mark": {"type": "point", "shape": "triangle-right", "filled": true, "color": "#00ff00", "size": 290, "opacity": 1},
          "encoding": {}
        },
        {
          "data": {"values": [{"lon": -71.667, "lat": 35.649, "label": "0.25 m s"}]},
          "mark": {"type": "text", "align": "left", "baseline": "alphabetic", "font": "Liberation Sans", "fontSize": 20, "color": "#1a1a1a"},
          "encoding": {"text": {"field": "label"}}
        },
        {
          "data": {"values": [{"lon": -70.924, "lat": 35.724, "label": "-1"}]},
          "mark": {"type": "text", "align": "left", "baseline": "alphabetic", "font": "Liberation Sans", "fontSize": 14, "color": "#1a1a1a"},
          "encoding": {"text": {"field": "label"}}
        },
        {
          "data": {"name": "frame"},
          "mark": {"type": "rule", "stroke": "#505050", "strokeWidth": 1.3},
          "encoding": {"x2": {"field": "lon2"}, "y2": {"field": "lat2"}}
        }
      ]
    },
    {
      "width": 20,
      "height": 690,
      "layer": [
        {
          "data": {"name": "bar"},
          "mark": {"type": "rect"},
          "encoding": {
            "y": {
              "field": "low",
              "type": "quantitative",
              "scale": {"domain": [-5000, -48], "nice": false, "zero": false},
              "axis": {
                "orient": "right",
                "title": "Elevation (m)",
                "titleFont": "Liberation Sans",
                "titleFontSize": 20,
                "titleFontWeight": "normal",
                "titleColor": "#262626",
                "titleAngle": 270,
                "titlePadding": 29,
                "titleY": 356,
                "values": [-5000, -4500, -4000, -3500, -3000, -2500, -2000, -1500, -1000, -500],
                "labelExpr": "'' + datum.value",
                "ticks": false,
                "domain": false,
                "grid": false,
                "labelFont": "Liberation Sans",
                "labelFontSize": 22,
                "labelColor": "#262626",
                "labelPadding": 5,
                "labelFlush": false
              }
            },
            "y2": {"field": "high"},
            "color": {
              "field": "shade",
              "type": "nominal",
              "legend": null,
              "scale": {
                "domain": ["s5", "s4", "s3", "s2", "g0", "g1", "g2", "g3", "g4", "g5", "g6", "g7", "g8", "g9"],
                "range": ["#4d4d4d", "#737373", "#999999", "#bababa", "#dedede", "#e2e2e2", "#e5e5e5", "#e9e9e9", "#ececec", "#f0f0f0", "#f3f3f3", "#f7f7f7", "#fafafa", "#fefefe"]
              }
            }
          }
        },
        {
          "data": {"name": "barframe"},
          "mark": {"type": "rule", "stroke": "#505050", "strokeWidth": 1.3},
          "encoding": {
            "x": {"field": "a", "type": "quantitative", "axis": null, "scale": {"domain": [0, 1], "nice": false}},
            "x2": {"field": "b"},
            "y": {"field": "e", "type": "quantitative"},
            "y2": {"field": "e2"}
          }
        }
      ]
    }
  ],
  "bounds": "flush",
  "spacing": 210,
  "resolve": {"scale": {"color": "independent", "fill": "independent", "x": "independent", "y": "independent"}}
}
